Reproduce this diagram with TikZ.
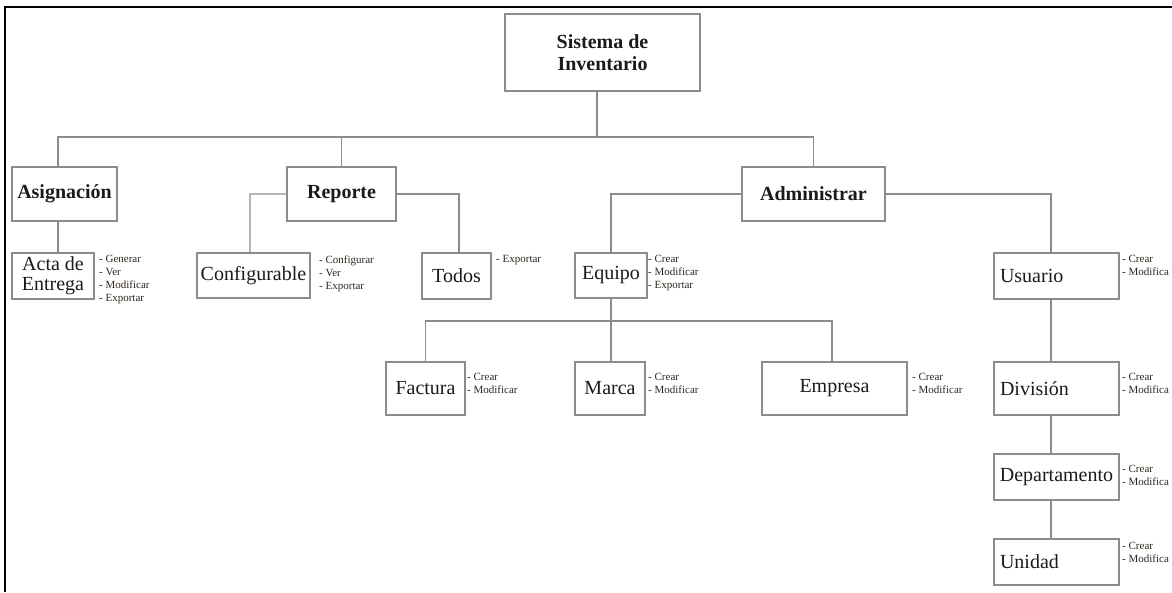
\documentclass[tikz,border=0pt]{standalone}
\usepackage{fontspec}
\setmainfont{Liberation Serif}
\definecolor{boxgray}{HTML}{8C8C8C}
\definecolor{linegray}{HTML}{8C8C8C}
\definecolor{lightline}{HTML}{B4B4B4}
\definecolor{txt}{HTML}{1A1A1A}
\definecolor{lsttxt}{HTML}{2E261E}
\newcommand\lblfont{\fontsize{20}{20}\selectfont}
\newcommand\bldfont{\fontsize{20}{22}\selectfont\bfseries}
\newcommand\lstfont{\fontsize{11}{13}\selectfont}
\begin{document}
\begin{tikzpicture}[x=1pt,y=-1pt,
  box/.style={draw=boxgray, line width=1.2pt, inner sep=0pt, text=txt, font=\lblfont, align=center},
  bbox/.style={box, font=\bldfont},
  lbox/.style={box, inner xsep=6pt, text width=113pt, align=left, minimum height=46pt},
  lst/.style={inner sep=0pt, anchor=north west, align=left, font=\lstfont, text=lsttxt},
  conn/.style={draw=linegray, line width=1.2pt},
  lconn/.style={draw=lightline, line width=1.2pt},
  frame/.style={draw=black, line width=2pt}]
\useasboundingbox (0,0) rectangle (1172,592);

% frame (top and left edges)
\draw[frame] (5,592) -- (5,7) -- (1172,7);

% level 0
\node[bbox, minimum width=195pt, minimum height=77pt] (sis) at (602.5,52.5) {Sistema de\\Inventario};

% level 1
\node[bbox, minimum width=105pt, minimum height=54pt] (asig) at (64.5,194) {Asignación};
\node[bbox, minimum width=109pt, minimum height=54pt] (rep) at (341.5,194) {Reporte};
\node[bbox, minimum width=143pt, minimum height=54pt] (adm) at (813.5,194) {Administrar};

% level 2
\node[box, minimum width=82pt, minimum height=46pt] (acta) at (53,276) {Acta de\\Entrega};
\node[box, minimum width=113pt, minimum height=45pt] (conf) at (253.5,275.5) {Configurable};
\node[box, minimum width=69pt, minimum height=46pt] (todos) at (456.5,276) {Todos};
\node[box, minimum width=72pt, minimum height=45pt] (equipo) at (611,275.5) {Equipo};
\node[lbox] (usuario) at (1056.5,276) {Usuario};

% level 3
\node[box, minimum width=79pt, minimum height=53pt] (factura) at (425.5,388.5) {Factura};
\node[box, minimum width=70pt, minimum height=53pt] (marca) at (610,388.5) {Marca};
\node[box, minimum width=145pt, minimum height=53pt] (empresa) at (834.5,388.5) {Empresa};
\node[lbox, minimum height=53pt] (division) at (1056.5,388.5) {División};
\node[box, inner xsep=3pt, minimum width=125pt, minimum height=46pt] (depto) at (1056.5,477) {Departamento};
\node[lbox] (unidad) at (1056.5,562) {Unidad};

% operation lists
\node[lst] (actaL) at (99,255.5) {- Generar\\- Ver\\- Modificar\\- Exportar};
\node[lst] (confL) at (319,255.5) {- Configurar\\- Ver\\- Exportar};
\node[lst] (todosL) at (496,255.5) {- Exportar};
\node[lst] (equipoL) at (648,255.5) {- Crear\\- Modificar\\- Exportar};
\node[lst] (usuarioL) at (1122,255.5) {- Crear\\- Modifica};
\node[lst] (facturaL) at (467,373.5) {- Crear\\- Modificar};
\node[lst] (marcaL) at (648,373.5) {- Crear\\- Modificar};
\node[lst] (empresaL) at (912,373.5) {- Crear\\- Modificar};
\node[lst] (divisionL) at (1122,373.5) {- Crear\\- Modifica};
\node[lst] (deptoL) at (1122,465.5) {- Crear\\- Modifica};
\node[lst] (unidadL) at (1122,542.5) {- Crear\\- Modifica};

% connectors
\coordinate (hub) at (597,137);
\draw[conn] (sis.south -| hub) -- (hub);
\draw[conn] ([xshift=-6.5pt]asig.north) |- (hub) -| (adm.north);
\draw[conn] (rep.north) -- (rep.north |- hub);
\draw[conn] ([xshift=-6.5pt]asig.south) -- ([xshift=-6.5pt]asig.south |- acta.north);
\draw[lconn] (rep.west) -| ([xshift=-3.5pt]conf.north);
\draw[conn] (rep.east) -| ([xshift=2.5pt]todos.north);
\draw[conn] (adm.west) -| (equipo.north);
\draw[conn] (adm.east) -| ([xshift=-5.5pt]usuario.north);

\coordinate (hub2) at (611,321);
\draw[conn] (equipo.south) -- (hub2);
\draw[conn] (hub2) -- (hub2 |- marca.north);
\draw[conn] (factura.north) |- (hub2) -| ([xshift=-2.5pt]empresa.north);

\draw[conn] ([xshift=-5.5pt]usuario.south) -- ([xshift=-5.5pt]division.north);
\draw[conn] ([xshift=-5.5pt]division.south) -- ([xshift=-5.5pt]depto.north);
\draw[conn] ([xshift=-5.5pt]depto.south) -- ([xshift=-5.5pt]unidad.north);
\end{tikzpicture}
\end{document}
